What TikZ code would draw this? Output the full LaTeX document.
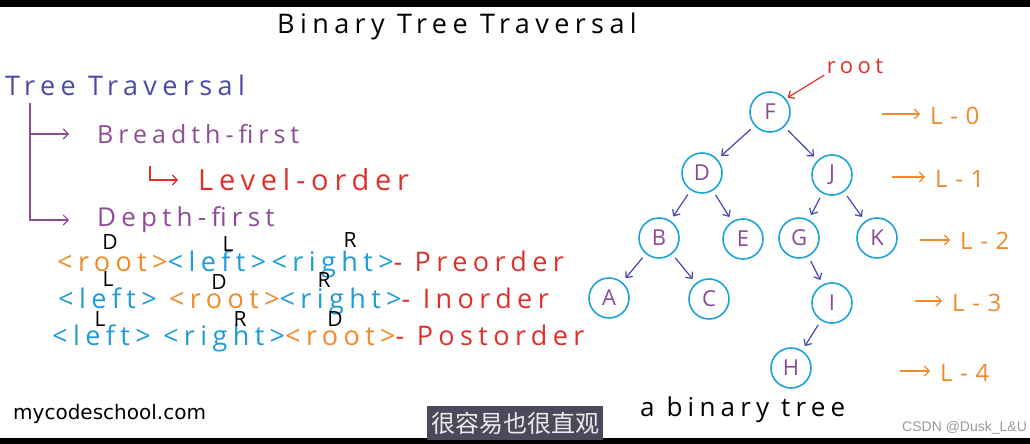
\documentclass[tikz,border=0pt]{standalone}
\usepackage{fontspec}
\setmainfont{Open Sans}[LetterSpace=20]
\newfontfamily\sitefont{DejaVu Sans}
\newfontfamily\cjkfont{Noto Sans CJK SC}
\newfontfamily\markfont{Liberation Sans}
\usetikzlibrary{arrows.meta,positioning,calc}
\definecolor{InkIndigo}{HTML}{4A4AA8}
\definecolor{InkPurple}{HTML}{8E4C96}
\definecolor{InkRed}{HTML}{E0302A}
\definecolor{InkOrange}{HTML}{F08A2A}
\definecolor{InkBlue}{HTML}{1E9BD8}
\definecolor{NodeCyan}{HTML}{1BA3D8}
\definecolor{NodeText}{HTML}{8A4A9A}
\definecolor{EdgeBlue}{HTML}{4848B0}
\definecolor{BarGray}{HTML}{4A4A5A}
\definecolor{MarkGray}{HTML}{9A9A9A}
\newcommand{\fs}[1]{\fontsize{#1}{#1}\selectfont}

\begin{document}
\begin{tikzpicture}[
	x=1pt, y=-1pt,
	txt/.style={inner sep=0pt, anchor=west},
	tnode/.style={
		circle,
		draw=NodeCyan,
		line width=1.6pt,
		minimum size=40pt,
		inner sep=0pt,
		text=NodeText,
		font=\fs{22}\addfontfeature{LetterSpace=0}
	},
	edge/.style={
		-{Straight Barb[length=5pt,width=9pt]},
		line width=1.2pt,
		draw=EdgeBlue,
		shorten <=5pt,
		shorten >=5pt
	},
	branch/.style={
		-{Straight Barb[length=5pt,width=10pt]},
		line width=1.1pt,
		draw=InkPurple
	},
	lvl/.style={
		-{Straight Barb[length=5pt,width=10pt]},
		line width=1.2pt,
		draw=InkOrange
	},
	lvltxt/.style={txt, text=InkOrange, font=\fs{24}\addfontfeature{LetterSpace=32}},
	letter/.style={inner sep=0pt, font=\fs{21}\addfontfeature{LetterSpace=0}}
]
\useasboundingbox (0,0) rectangle (1030,444);
\fill[white] (0,0) rectangle (1030,444);
\fill[black] (0,0) rectangle (1030,7);
\fill[black] (0,438) rectangle (1030,444);

% title
\node[inner sep=0pt, font=\fs{27}] (title) at (457,26) {Binary Tree Traversal};

% left side: kinds of traversal
\node[txt, text=InkIndigo, font=\fs{27}] (trav) at (5,85) {Tree Traversal};
\node[txt, text=InkPurple, font=\fs{25}] (breadth) at (97,134) {Breadth-first};
\node[txt, text=InkRed, font=\fs{29}] (level) at (198,180) {Level-order};
\node[txt, text=InkPurple, font=\fs{26}] (depth) at (97,220) {Depth-first};

\coordinate (trunk) at (30,103);
\coordinate (hook) at (150,166);
\draw[branch, shorten >=28pt] (trunk) |- (breadth.west);
\draw[branch, shorten >=28pt] (trunk) |- (depth.west);
\draw[branch, draw=InkRed, shorten >=20pt] (hook) |- (level.west);

% depth-first orders
\node[txt, font=\fs{27}] (pre) at (57,264)
	{\textcolor{InkOrange}{<root>}\textcolor{InkBlue}{<left><right>}\textcolor{InkRed}{- Preorder}};
\node[txt, font=\fs{27}] (in) at (58,301)
	{\textcolor{InkBlue}{<left>} \textcolor{InkOrange}{<root>}\textcolor{InkBlue}{<right>}\textcolor{InkRed}{- Inorder}};
\node[txt, font=\fs{27}] (post) at (52,338)
	{\textcolor{InkBlue}{<left> <right>}\textcolor{InkOrange}{<root>}\textcolor{InkRed}{ - Postorder}};

\node[letter] (preD) at (110,242) {D};
\node[letter] (preL) at (228,244) {L};
\node[letter] (preR) at (350,240) {R};
\node[letter] (inL) at (108,279) {L};
\node[letter] (inD) at (219,282) {D};
\node[letter] (inR) at (324,280) {R};
\node[letter] (postL) at (100,319) {L};
\node[letter] (postR) at (240,319) {R};
\node[letter] (postD) at (335,319) {D};

% the binary tree
\node[tnode] (F) at (770,112) {F};
\node[tnode] (D) at (702,173) {D};
\node[tnode] (J) at (832,175) {J};
\node[tnode] (B) at (659,238) {B};
\node[tnode] (E) at (743,239) {E};
\node[tnode] (G) at (799,238) {G};
\node[tnode] (K) at (877,238) {K};
\node[tnode] (A) at (609,298) {A};
\node[tnode] (C) at (709,299) {C};
\node[tnode] (I) at (832,303) {I};
\node[tnode] (H) at (791,368) {H};

\draw[edge] (F) -- (D);
\draw[edge] (F) -- (J);
\draw[edge] (D) -- (B);
\draw[edge] (D) -- (E);
\draw[edge] (J) -- (G);
\draw[edge] (J) -- (K);
\draw[edge] (B) -- (A);
\draw[edge] (B) -- (C);
\draw[edge] (G) -- (I);
\draw[edge] (I) -- (H);

\node[inner sep=0pt, text=InkRed, font=\fs{22}] (root) at (855,66) {root};
\draw[edge, draw=InkRed, shorten <=3pt, shorten >=2pt] (root.south west) -- (F.40);

% levels
\node[lvltxt] (L0) at (930,116) {L-0};
\node[lvltxt] (L1) at (935,179) {L-1};
\node[lvltxt] (L2) at (960,241) {L-2};
\node[lvltxt] (L3) at (952,303) {L-3};
\node[lvltxt] (L4) at (940,373) {L-4};
\coordinate (a0) at (882,114);
\coordinate (a1) at (892,177);
\coordinate (a2) at (920,240);
\coordinate (a3) at (915,301);
\coordinate (a4) at (900,371);
\draw[lvl, shorten >=10pt] (a0) -- (a0 -| L0.west);
\draw[lvl, shorten >=10pt] (a1) -- (a1 -| L1.west);
\draw[lvl, shorten >=10pt] (a2) -- (a2 -| L2.west);
\draw[lvl, shorten >=10pt] (a3) -- (a3 -| L3.west);
\draw[lvl, shorten >=10pt] (a4) -- (a4 -| L4.west);

\node[txt, font=\fs{26}] (caption) at (640,410) {a binary tree};

% footer
\node[txt, font=\sitefont\fs{20}] (site) at (13,414) {mycodeschool.com};
\node[fill=BarGray, minimum width=176pt, minimum height=34pt, inner sep=0pt,
	text=white!92!black, font=\cjkfont\fs{24}] (subtitle) at (515,423) {很容易也很直观};
\node[txt, text=MarkGray, font=\markfont\fs{14}] (csdn) at (902,428) {CSDN @Dusk\_L\&U};
\end{tikzpicture}
\end{document}
